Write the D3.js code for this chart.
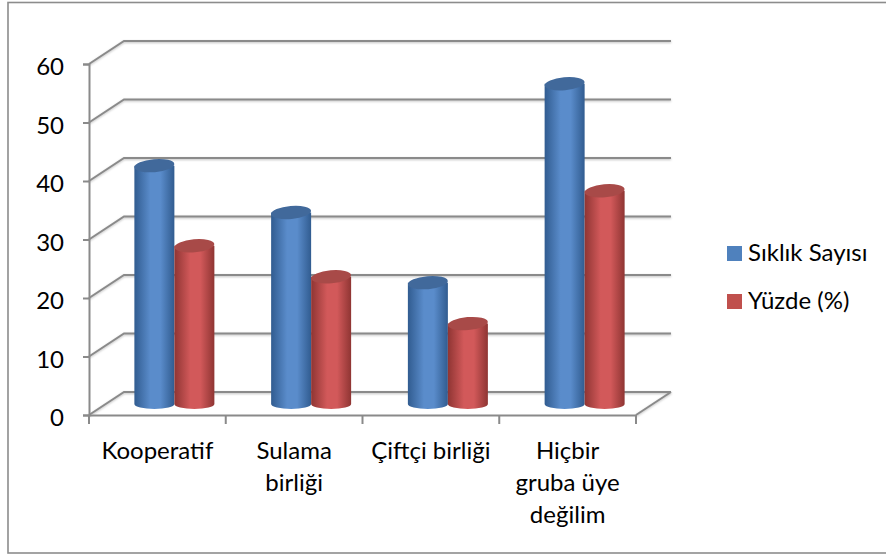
<!DOCTYPE html>
<html>
<head>
<meta charset="utf-8">
<script src="https://cdn.jsdelivr.net/npm/d3@7"></script>
<style>
  html, body { margin: 0; padding: 0; background: #fff; overflow: hidden; }
  text { font-family: Lato, "Open Sans", sans-serif; fill: #000; }
</style>
</head>
<body>
<div id="chart"></div>
<script>
// Chart data
const categories = ['Kooperatif', 'Sulama birliği', 'Çiftçi birliği', 'Hiçbir gruba üye değilim'];
const seriesNames = ['Sıklık Sayısı', 'Yüzde (%)'];
const siklik = [41, 33, 21, 55];
const yuzde = [27.3, 22, 14, 36.7];
const yTicks = [0, 10, 20, 30, 40, 50, 60];
const categoryLines = [['Kooperatif'], ['Sulama', 'birliği'], ['Çiftçi birliği'], ['Hiçbir', 'gruba üye', 'değilim']];

const width = 886;
const height = 556;
const fontSize = '24px';
const seriesValues = [siklik, yuzde];
const colors = [
    { name: 'blue', side: '#315c90', mid: '#5a8ccb', top: '#41699b', key: '#4f81bd' },
    { name: 'red', side: '#8f3533', mid: '#d2595a', top: '#a84a48', key: '#c0504d' }
];

const svg = d3.select('#chart').append('svg')
    .attr('width', width)
    .attr('height', height)
    .style('display', 'block');

// Cylinder gradients
const defs = svg.append('defs');
colors.forEach(c => {
    const g = defs.append('linearGradient').attr('id', 'grad-' + c.name);
    g.append('stop').attr('offset', '0%').attr('stop-color', c.side);
    g.append('stop').attr('offset', '40%').attr('stop-color', c.mid);
    g.append('stop').attr('offset', '65%').attr('stop-color', c.mid);
    g.append('stop').attr('offset', '100%').attr('stop-color', c.side);
});

// Outer frame, its right side falls off the picture
svg.append('rect')
    .attr('x', 8).attr('y', 2.5)
    .attr('width', 890).attr('height', 550.5)
    .attr('fill', '#fff')
    .attr('stroke', '#8c8c8c')
    .attr('stroke-width', 1.6);

// Scales (front plane of the 3D box)
const y = d3.scaleLinear().domain([0, 60]).range([415, 64]);
const x0 = d3.scaleBand().domain(categories).range([89, 636]);
const x1 = d3.scaleBand().domain(seriesNames)
    .range([x0.bandwidth() / 2 - 40, x0.bandwidth() / 2 + 40]);

const depthX = 35;
const depthY = -23;
const gridColor = '#8a8a8a';

// Back wall grid with the slanted part on the side wall
const grid = svg.append('g').style('filter', 'drop-shadow(0 1px 1px rgba(0,0,0,0.25))');
grid.selectAll('path')
    .data(yTicks)
    .enter()
    .append('path')
    .attr('d', d => d3.line()([
        [x0.range()[0], y(d)],
        [x0.range()[0] + depthX, y(d) + depthY],
        [x0.range()[1] + depthX, y(d) + depthY]
    ]))
    .attr('fill', 'none')
    .attr('stroke', gridColor)
    .attr('stroke-width', 2);

// Floor right edge
grid.append('line')
    .attr('x1', x0.range()[1]).attr('y1', y(0))
    .attr('x2', x0.range()[1] + depthX).attr('y2', y(0) + depthY)
    .attr('stroke', gridColor)
    .attr('stroke-width', 2);

// Axes
const yAxis = d3.axisLeft(y).tickValues(yTicks).tickSize(6).tickPadding(19);
const gy = svg.append('g').attr('transform', 'translate(89,0)').call(yAxis);
gy.selectAll('text').style('font-size', fontSize).attr('y', 2).attr('dy', '0.36em');

const xAxis = d3.axisBottom(x0).tickSize(0).tickFormat('');
const gx = svg.append('g').attr('transform', `translate(0,${y(0)})`).call(xAxis);

[gy, gx].forEach(g => {
    g.selectAll('.domain, line').attr('stroke', gridColor).attr('stroke-width', 2);
});

// Tick marks at the band edges
gx.selectAll('.edge')
    .data(d3.range(categories.length + 1))
    .enter()
    .append('line')
    .attr('class', 'edge')
    .attr('x1', i => 89 + i * x0.step())
    .attr('x2', i => 89 + i * x0.step())
    .attr('y1', 0)
    .attr('y2', 9)
    .attr('stroke', gridColor)
    .attr('stroke-width', 2);

// Category labels
const labels = svg.append('g').selectAll('text')
    .data(categories)
    .enter()
    .append('text')
    .attr('text-anchor', 'middle')
    .style('font-size', fontSize);
labels.each(function (d, i) {
    d3.select(this).selectAll('tspan')
        .data(categoryLines[i])
        .enter()
        .append('tspan')
        .attr('x', x0(d) + x0.bandwidth() / 2)
        .attr('y', (l, j) => 459 + j * 32)
        .text(l => l);
});

// Cylinders, drawn back to front per group
const barRy = 6.5;
const barDx = 17;
const baseY = 404;
const topShift = 1.5;
const unit = Math.abs(y(1) - y(0));

categories.forEach((cat, i) => {
    seriesNames.forEach((name, s) => {
        const c = colors[s];
        const left = x0(cat) + x1(name) + barDx;
        const w = x1.bandwidth();
        const rx = w / 2;
        const cx = left + rx;
        const topY = baseY - seriesValues[s][i] * unit + topShift;
        const g = svg.append('g');
        g.append('path')
            .attr('d', `M${left},${topY} L${left},${baseY} A${rx},${barRy - 1.5} 0 0 0 ${left + w},${baseY} L${left + w},${topY} Z`)
            .attr('fill', `url(#grad-${c.name})`);
        g.append('ellipse')
            .attr('cx', cx).attr('cy', topY)
            .attr('rx', rx).attr('ry', barRy)
            .attr('transform', `rotate(-5 ${cx} ${topY})`)
            .attr('fill', c.top);
    });
});

// Legend
const legend = svg.append('g').selectAll('g')
    .data(seriesNames)
    .enter()
    .append('g')
    .attr('transform', (d, i) => `translate(727,${246 + i * 48})`);
legend.append('rect')
    .attr('width', 15).attr('height', 15)
    .attr('fill', (d, i) => colors[i].key);
legend.append('text')
    .attr('x', 21).attr('y', 15)
    .style('font-size', fontSize)
    .text(d => d);
</script>
</body>
</html>
